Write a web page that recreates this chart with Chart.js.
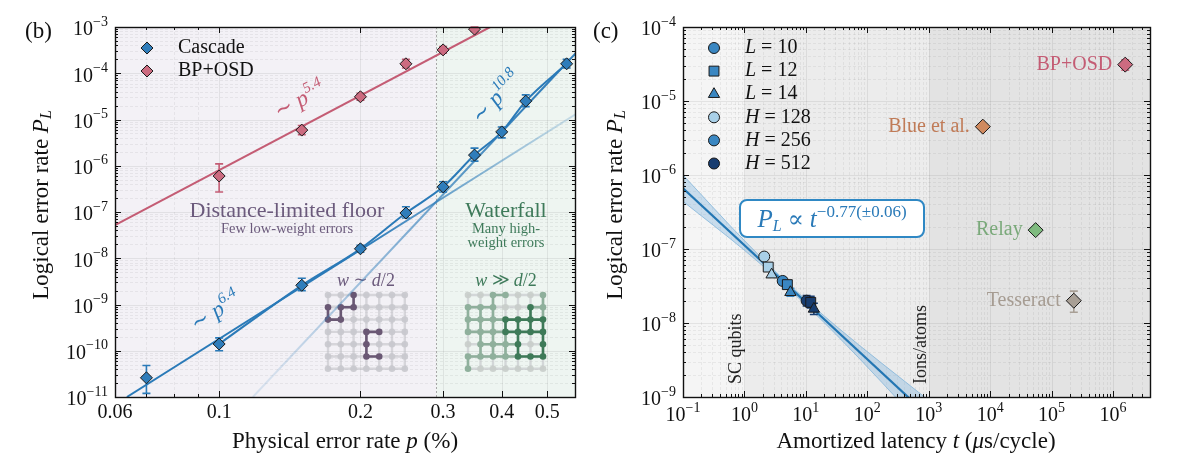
<!DOCTYPE html>
<html>
<head>
<meta charset="utf-8">
<script src="https://cdn.jsdelivr.net/npm/chart.js@4.4.1/dist/chart.umd.min.js"></script>
<style>
  html, body { margin: 0; padding: 0; background: #fff; }
  #wrap { position: relative; width: 1200px; height: 470px; overflow: hidden; }
  canvas { position: absolute; top: 0; }
  #chartB { left: 0; }
  #chartC { left: 585px; }
</style>
</head>
<body>
<div id="wrap">
  <canvas id="chartB" width="590" height="470"></canvas>
  <canvas id="chartC" width="615" height="470"></canvas>
</div>
<script>
// ──────────────────────────────────────
// Panel (b) data
// ──────────────────────────────────────
const pCascade    = [0.07, 0.1, 0.15, 0.2, 0.25, 0.3, 0.35, 0.4, 0.45, 0.55];
const plCascade   = [2.6e-11, 1.4e-10, 2.6e-9, 1.6e-8, 9.5e-8, 3.5e-7, 1.7e-6, 5.4e-6, 2.5e-5, 1.6e-4];
const plCascadeLo = [1.2e-11, 1.0e-10, 2.0e-9, 1.35e-8, 7.4e-8, 2.7e-7, 1.26e-6, 4.0e-6, 1.9e-5, 1.3e-4];
const plCascadeHi = [4.8e-11, 1.9e-10, 3.7e-9, 1.9e-8, 1.3e-7, 4.5e-7, 2.4e-6, 6.9e-6, 3.4e-5, 2.0e-4];
const pBposd      = [0.1, 0.15, 0.2, 0.25, 0.3, 0.35];
const plBposd     = [6e-7, 5.9e-6, 3.1e-5, 1.6e-4, 3.2e-4, 9e-4];
const plBposdLo   = [2.7e-7, 4.7e-6, 2.6e-5, 1.3e-4, 2.7e-4, 8e-4];
const plBposdHi   = [1.1e-6, 7.4e-6, 3.7e-5, 2.0e-4, 3.8e-4, 1e-3];

// fit lines, end points
const fitBposdP  = [0.06, 0.378];
const fitBposdPL = [5.2e-8, 1e-3];
const fitLowP    = [0.0636, 0.575];
const fitLowPL   = [1e-11, 1.3e-5];
const fitHighP   = [0.118, 0.575];
const fitHighPL  = [1e-11, 2.7e-4];
const pThreshold = 0.29;

const xTicksB      = [0.06, 0.1, 0.2, 0.3, 0.4, 0.5];
const xTickLabelsB = ['0.06', '0.1', '0.2', '0.3', '0.4', '0.5'];
const xMinorB      = [0.07, 0.08, 0.09];
const yTickExpB    = [-11, -10, -9, -8, -7, -6, -5, -4, -3];

// ──────────────────────────────────────
// Panel (c) data
// ──────────────────────────────────────
const tH128    = [2.1, 2.44, 2.77];
const plH128   = [7.9e-8, 5.7e-8, 4.5e-8];
const tH256    = [4.2, 5.0, 5.6];
const plH256   = [3.7e-8, 3.3e-8, 2.6e-8];
const plH256Lo = [3.3e-8, 2.95e-8, 2.3e-8];
const plH256Hi = [4.1e-8, 3.7e-8, 2.95e-8];
const tH512    = [10.3, 12.0, 13.5];
const plH512   = [2.0e-8, 1.9e-8, 1.55e-8];
const plH512Lo = [1.7e-8, 1.6e-8, 1.3e-8];
const plH512Hi = [2.35e-8, 2.3e-8, 1.85e-8];
const markerL  = ['circle', 'rect', 'triangle'];

const tFit     = [0.1, 1000];
const plFit    = [6.6e-7, 5.5e-10];
const tBand    = [0.1, 1, 5, 30, 1000];
const plBandHi = [1.0e-6, 1.3e-7, 3.5e-8, 9.3e-9, 9.0e-10];
const plBandLo = [4.4e-7, 9.6e-8, 3.0e-8, 7.2e-9, 3.3e-10];

const otherNames = ['BP+OSD', 'Blue et al.', 'Relay', 'Tesseract'];
const tOther     = [1.58e6, 7.6e3, 5.5e4, 2.3e5];
const plOther    = [3.1e-5, 4.5e-6, 1.8e-7, 2.0e-8];
const plOtherLo  = [2.6e-5, null, 1.65e-7, 1.4e-8];
const plOtherHi  = [3.6e-5, null, 1.95e-7, 2.7e-8];

const regionEdgesC = [1, 1000];
const xTickExpC    = [-1, 0, 1, 2, 3, 4, 5, 6];
const yTickExpC    = [-9, -8, -7, -6, -5, -4];

// ──────────────────────────────────────
// Colours / fonts
// ──────────────────────────────────────
const SERIF = '"Liberation Serif", "DejaVu Serif", serif';
const BLUE = '#2a7ab8', BLUE_RGB = '42,122,184', BLUE_MK = '#2f7dbb';
const PINK = '#c45c74', PINK_MK = '#cc6b80';
const H_LIGHT = '#a9d0e8', H_MED = '#3a87c2', H_DARK = '#183d70';
const OTHER_FILL  = ['#cc6b80', '#d08a5f', '#7fbb7f', '#a89f95'];
const OTHER_TEXT  = ['#c45c74', '#c07b57', '#7aa97a', '#a69c92'];
const OFF_C = 585;

const xy = (xs, ys) => xs.map((v, i) => ({ x: v, y: ys[i] }));

function fnt(p) { return (p.i ? 'italic ' : '') + (p.s || 19) + 'px ' + SERIF; }

function drawRich(ctx, parts, x, y, align) {
    let w = 0;
    for (const p of parts) { ctx.font = fnt(p); w += ctx.measureText(p.t).width; }
    let cx = align === 'right' ? x - w : (align === 'center' ? x - w / 2 : x);
    ctx.textAlign = 'left';
    for (const p of parts) {
        ctx.font = fnt(p);
        ctx.fillText(p.t, cx, y + (p.dy || 0));
        cx += ctx.measureText(p.t).width;
    }
}

function drawRotated(ctx, parts, x, y, deg, color) {
    ctx.save();
    ctx.translate(x, y);
    ctx.rotate(deg * Math.PI / 180);
    ctx.fillStyle = color;
    ctx.textBaseline = 'middle';
    drawRich(ctx, parts, 0, 0, 'center');
    ctx.restore();
}

function expLabel(e) { return (e < 0 ? '\u2212' + (-e) : '' + e); }

function minorLog(min, max) {
    const out = [];
    for (let e = Math.floor(Math.log10(min)); e <= Math.floor(Math.log10(max)); e++) {
        for (let k = 2; k <= 9; k++) {
            const v = k * Math.pow(10, e);
            if (v > min * 1.0001 && v < max * 0.9999) out.push(v);
        }
    }
    return out;
}

function drawGrid(ctx, a, xs, ys, xMaj, xMin, yMaj, yMin) {
    ctx.save();
    ctx.lineWidth = 0.8;
    ctx.setLineDash([3, 2]);
    ctx.strokeStyle = 'rgba(0,0,0,0.07)';
    ctx.beginPath();
    for (const v of xMin) { const p = Math.round(xs.getPixelForValue(v)) + 0.5; ctx.moveTo(p, a.top); ctx.lineTo(p, a.bottom); }
    for (const v of yMin) { const p = Math.round(ys.getPixelForValue(v)) + 0.5; ctx.moveTo(a.left, p); ctx.lineTo(a.right, p); }
    ctx.stroke();
    ctx.setLineDash([]);
    ctx.strokeStyle = 'rgba(0,0,0,0.09)';
    ctx.beginPath();
    for (const v of xMaj) { const p = Math.round(xs.getPixelForValue(v)) + 0.5; ctx.moveTo(p, a.top); ctx.lineTo(p, a.bottom); }
    for (const v of yMaj) { const p = Math.round(ys.getPixelForValue(v)) + 0.5; ctx.moveTo(a.left, p); ctx.lineTo(a.right, p); }
    ctx.stroke();
    ctx.restore();
}

function drawSpines(ctx, a, xs, ys, xMaj, xMin, yMaj, yMin) {
    ctx.save();
    ctx.strokeStyle = '#111';
    ctx.lineWidth = 1;
    ctx.beginPath();
    const tx = (v, len) => { const p = Math.round(xs.getPixelForValue(v)) + 0.5;
        ctx.moveTo(p, a.bottom); ctx.lineTo(p, a.bottom - len); ctx.moveTo(p, a.top); ctx.lineTo(p, a.top + len); };
    const ty = (v, len) => { const p = Math.round(ys.getPixelForValue(v)) + 0.5;
        ctx.moveTo(a.left, p); ctx.lineTo(a.left + len, p); ctx.moveTo(a.right, p); ctx.lineTo(a.right - len, p); };
    xMaj.forEach(v => tx(v, 6)); xMin.forEach(v => tx(v, 3));
    yMaj.forEach(v => ty(v, 6)); yMin.forEach(v => ty(v, 3));
    ctx.stroke();
    ctx.lineWidth = 1.4;
    ctx.strokeRect(Math.round(a.left) + 0.5, Math.round(a.top) + 0.5, Math.round(a.right - a.left), Math.round(a.bottom - a.top));
    ctx.restore();
}

function drawMarker(ctx, style, x, y, r, fill) {
    ctx.save();
    ctx.fillStyle = fill;
    ctx.strokeStyle = '#1a1a1a';
    ctx.lineWidth = 1;
    Chart.helpers.drawPoint(ctx, { pointStyle: style, radius: r, rotation: 0, borderWidth: 1 }, x, y);
    ctx.restore();
}

// lattice icon: classes = rows of '0','1','2'; edges = explicit list or null for auto
function drawIcon(ctx, ox, oy, sx, sy, classes, colors, edges) {
    ctx.save();
    ctx.lineCap = 'round';
    const P = (c, r) => [ox + c * sx, oy + r * sy];
    ctx.strokeStyle = 'rgba(190,190,195,0.55)';
    ctx.lineWidth = 2.4;
    ctx.beginPath();
    for (let r = 0; r < 7; r++) for (let c = 0; c < 7; c++) {
        const [x, y] = P(c, r);
        if (c < 6) { ctx.moveTo(x, y); ctx.lineTo(x + sx, y); }
        if (r < 6) { ctx.moveTo(x, y); ctx.lineTo(x, y + sy); }
    }
    ctx.stroke();
    const cls = (c, r) => +classes[r][c];
    const seg = (c1, r1, c2, r2, col) => {
        const [x1, y1] = P(c1, r1), [x2, y2] = P(c2, r2);
        ctx.strokeStyle = col; ctx.lineWidth = 2.6;
        ctx.beginPath(); ctx.moveTo(x1, y1); ctx.lineTo(x2, y2); ctx.stroke();
    };
    if (edges) {
        edges.forEach(e => seg(e[0], e[1], e[2], e[3], colors[1]));
    } else {
        for (let lvl = 1; lvl <= 2; lvl++)
            for (let r = 0; r < 7; r++) for (let c = 0; c < 7; c++) {
                if (c < 6 && Math.min(cls(c, r), cls(c + 1, r)) === lvl) seg(c, r, c + 1, r, colors[lvl]);
                if (r < 6 && Math.min(cls(c, r), cls(c, r + 1)) === lvl) seg(c, r, c, r + 1, colors[lvl]);
            }
    }
    for (let r = 0; r < 7; r++) for (let c = 0; c < 7; c++) {
        const [x, y] = P(c, r);
        ctx.fillStyle = colors[cls(c, r)];
        ctx.beginPath(); ctx.arc(x, y, 3.3, 0, Math.PI * 2); ctx.fill();
    }
    ctx.restore();
}

function fadeLine(x0, a0, x1, a1) {
    return (c) => {
        const chart = c.chart, xs = chart.scales && chart.scales.x;
        if (!chart.chartArea || !xs) return 'rgba(' + BLUE_RGB + ',' + a0 + ')';
        const g = chart.ctx.createLinearGradient(xs.getPixelForValue(x0), 0, xs.getPixelForValue(x1), 0);
        g.addColorStop(0, 'rgba(' + BLUE_RGB + ',' + a0 + ')');
        g.addColorStop(1, 'rgba(' + BLUE_RGB + ',' + a1 + ')');
        return g;
    };
}

const errorBars = {
    id: 'errorBars',
    beforeDatasetDraw(chart, args) {
        const ds = chart.data.datasets[args.index];
        if (!ds.errLo) return;
        const { ctx, scales: { x, y } } = chart;
        ctx.save();
        ctx.lineWidth = 1.6;
        ds.data.forEach((d, i) => {
            if (ds.errLo[i] == null) return;
            ctx.strokeStyle = Array.isArray(ds.errColor) ? ds.errColor[i] : ds.errColor;
            const px = x.getPixelForValue(d.x);
            const y1 = y.getPixelForValue(ds.errLo[i]), y2 = y.getPixelForValue(ds.errHi[i]);
            ctx.beginPath();
            ctx.moveTo(px, y1); ctx.lineTo(px, y2);
            ctx.moveTo(px - 4, y1); ctx.lineTo(px + 4, y1);
            ctx.moveTo(px - 4, y2); ctx.lineTo(px + 4, y2);
            ctx.stroke();
        });
        ctx.restore();
    }
};

const tickParts = (e) => [{ t: '10', s: 20 }, { t: expLabel(e), s: 14, dy: -8 }];

// ──────────────────────────────────────
// Panel (b) decorations
// ──────────────────────────────────────
const panelB = {
    id: 'panelB',
    beforeDatasetsDraw(chart) {
        const { ctx, chartArea: a, scales: { x, y } } = chart;
        const yMaj = yTickExpB.map(e => Math.pow(10, e));
        const yMin = minorLog(yMaj[0], yMaj[yMaj.length - 1]);
        ctx.save();
        const xt = x.getPixelForValue(pThreshold);
        ctx.fillStyle = '#f3f1f6';
        ctx.fillRect(a.left, a.top, xt - a.left, a.bottom - a.top);
        ctx.fillStyle = '#eef5f1';
        ctx.fillRect(xt, a.top, a.right - xt, a.bottom - a.top);
        drawGrid(ctx, a, x, y, xTicksB, xMinorB, yMaj, yMin);
        ctx.strokeStyle = '#a8a8a8'; ctx.lineWidth = 1; ctx.setLineDash([2, 2]);
        ctx.beginPath(); ctx.moveTo(Math.round(xt) + 0.5, a.top); ctx.lineTo(Math.round(xt) + 0.5, a.bottom); ctx.stroke();
        ctx.setLineDash([]);

        // regime labels
        ctx.textBaseline = 'middle';
        ctx.fillStyle = '#6b5a7c';
        drawRich(ctx, [{ t: 'Distance-limited floor', s: 22 }], 287, 211, 'center');
        drawRich(ctx, [{ t: 'Few low-weight errors', s: 14.5 }], 287, 229, 'center');
        drawRich(ctx, [{ t: 'w', i: 1, s: 18 }, { t: ' \u223C ', s: 17 }, { t: 'd', i: 1, s: 18 }, { t: '/2', s: 18 }], 366, 281, 'center');
        ctx.fillStyle = '#3e7a5a';
        drawRich(ctx, [{ t: 'Waterfall', s: 22 }], 506, 211, 'center');
        drawRich(ctx, [{ t: 'Many high-', s: 14.5 }], 506, 229, 'center');
        drawRich(ctx, [{ t: 'weight errors', s: 14.5 }], 506, 243, 'center');
        drawRich(ctx, [{ t: 'w', i: 1, s: 18 }, { t: ' \u226B ', s: 17 }, { t: 'd', i: 1, s: 18 }, { t: '/2', s: 18 }], 506, 281, 'center');

        drawIcon(ctx, 328, 295, 12.8, 12.3,
            ['0010000', '1110000', '1100000', '0001100', '0001000', '0001100', '0000000'],
            ['rgba(200,200,205,0.9)', '#6a5874'],
            [[2, 0, 2, 1], [1, 1, 2, 1], [0, 1, 0, 2], [1, 1, 1, 2], [0, 2, 1, 2],
             [3, 3, 4, 3], [3, 3, 3, 4], [3, 4, 3, 5], [3, 5, 4, 5]]);
        drawIcon(ctx, 468, 295, 12.5, 12.3,
            ['0011001', '1110021', '1112222', '1112222', '0111202', '1111222', '1000000'],
            ['rgba(200,205,202,0.9)', '#8fb09c', '#3e7a58'], null);

        // exponent labels
        const sup = (base, ex) => [{ t: '\u223C ', s: 22 }, { t: base, i: 1, s: 23 }, { t: ex, i: 1, s: 15, dy: -8 }];
        drawRotated(ctx, sup('p', '5.4'), 300, 101, -27.8, PINK);
        drawRotated(ctx, sup('p', '10.8'), 497, 98, -47, BLUE);
        drawRotated(ctx, sup('p', '6.4'), 216, 312, -32, BLUE);
        ctx.restore();
    },
    afterDraw(chart) {
        const { ctx, chartArea: a, scales: { x, y } } = chart;
        const yMaj = yTickExpB.map(e => Math.pow(10, e));
        const yMin = minorLog(yMaj[0], yMaj[yMaj.length - 1]);
        drawSpines(ctx, a, x, y, xTicksB, xMinorB, yMaj, yMin);
        ctx.save();
        ctx.fillStyle = '#111';
        ctx.textBaseline = 'middle';
        yTickExpB.forEach(e => {
            drawRich(ctx, tickParts(e), a.left - 7, y.getPixelForValue(Math.pow(10, e)) + 3, 'right');
        });
        xTicksB.forEach((v, i) => drawRich(ctx, [{ t: xTickLabelsB[i], s: 20 }], x.getPixelForValue(v), a.bottom + 16, 'center'));
        drawRich(ctx, [{ t: 'Physical error rate ', s: 23 }, { t: 'p', i: 1, s: 23 }, { t: ' (%)', s: 23 }], (a.left + a.right) / 2, 442, 'center');
        drawRotated(ctx, [{ t: 'Logical error rate ', s: 23 }, { t: 'P', i: 1, s: 23 }, { t: 'L', i: 1, s: 16, dy: 5 }], 42, 205, -90, '#111');
        ctx.fillStyle = '#111';
        drawRich(ctx, [{ t: '(b)', s: 23 }], 25, 32, 'left');

        // legend
        drawMarker(ctx, 'rectRot', 147, 48, 6, BLUE_MK);
        drawMarker(ctx, 'rectRot', 147, 71, 6, PINK_MK);
        ctx.fillStyle = '#111';
        ctx.textBaseline = 'middle';
        drawRich(ctx, [{ t: 'Cascade', s: 20 }], 178, 48, 'left');
        drawRich(ctx, [{ t: 'BP+OSD', s: 20 }], 178, 71, 'left');
        ctx.restore();
    }
};

// ──────────────────────────────────────
// Panel (c) decorations
// ──────────────────────────────────────
const panelC = {
    id: 'panelC',
    beforeDatasetsDraw(chart) {
        const { ctx, chartArea: a, scales: { x, y } } = chart;
        const xMaj = xTickExpC.map(e => Math.pow(10, e));
        const yMaj = yTickExpC.map(e => Math.pow(10, e));
        ctx.save();
        const e0 = x.getPixelForValue(regionEdgesC[0]), e1 = x.getPixelForValue(regionEdgesC[1]);
        ctx.fillStyle = '#f5f5f5'; ctx.fillRect(a.left, a.top, e0 - a.left, a.bottom - a.top);
        ctx.fillStyle = '#ececec'; ctx.fillRect(e0, a.top, e1 - e0, a.bottom - a.top);
        ctx.fillStyle = '#e3e3e3'; ctx.fillRect(e1, a.top, a.right - e1, a.bottom - a.top);
        drawGrid(ctx, a, x, y, xMaj, minorLog(x.min, x.max), yMaj, minorLog(y.min, y.max));
        ctx.fillStyle = '#222';
        ctx.textBaseline = 'middle';
        const rot = (txt, gx, by) => {
            ctx.save(); ctx.translate(gx - OFF_C, by); ctx.rotate(-Math.PI / 2);
            drawRich(ctx, [{ t: txt, s: 18 }], 0, 0, 'left'); ctx.restore();
        };
        rot('SC qubits', 736, 384);
        rot('Ions/atoms', 921, 384);
        ctx.restore();
    },
    afterDatasetsDraw(chart) {
        const { ctx, scales: { x, y } } = chart;
        ctx.save();
        ctx.textBaseline = 'middle';
        otherNames.forEach((n, i) => {
            ctx.fillStyle = OTHER_TEXT[i];
            drawRich(ctx, [{ t: n, s: 20 }], x.getPixelForValue(tOther[i]) - 13, y.getPixelForValue(plOther[i]), 'right');
        });
        // fit box
        const bx = 740 - OFF_C, by = 200, bw = 184, bh = 37;
        ctx.beginPath();
        ctx.roundRect(bx, by, bw, bh, 7);
        ctx.fillStyle = '#fff'; ctx.fill();
        ctx.strokeStyle = '#2f88c4'; ctx.lineWidth = 2; ctx.stroke();
        ctx.fillStyle = '#2a7ab8';
        drawRich(ctx, [{ t: 'P', i: 1, s: 25 }, { t: 'L', i: 1, s: 16, dy: 6 }, { t: ' \u221D ', s: 24 },
            { t: 't', i: 1, s: 25 }, { t: '\u22120.77(\u00B10.06)', s: 17, dy: -8 }], bx + bw / 2, by + bh / 2 + 2, 'center');
        ctx.restore();
    },
    afterDraw(chart) {
        const { ctx, chartArea: a, scales: { x, y } } = chart;
        const xMaj = xTickExpC.map(e => Math.pow(10, e));
        const yMaj = yTickExpC.map(e => Math.pow(10, e));
        drawSpines(ctx, a, x, y, xMaj, minorLog(x.min, x.max), yMaj, minorLog(y.min, y.max));
        ctx.save();
        ctx.fillStyle = '#111';
        ctx.textBaseline = 'middle';
        yTickExpC.forEach(e => {
            drawRich(ctx, tickParts(e), a.left - 7, y.getPixelForValue(Math.pow(10, e)) + 3, 'right');
        });
        xTickExpC.forEach(e => {
            drawRich(ctx, tickParts(e), x.getPixelForValue(Math.pow(10, e)), a.bottom + 19, 'center');
        });
        drawRich(ctx, [{ t: 'Amortized latency ', s: 23 }, { t: 't', i: 1, s: 23 }, { t: ' (', s: 23 },
            { t: '\u03BC', i: 1, s: 23 }, { t: 's/cycle)', s: 23 }], 916 - OFF_C, 442, 'center');
        drawRotated(ctx, [{ t: 'Logical error rate ', s: 23 }, { t: 'P', i: 1, s: 23 }, { t: 'L', i: 1, s: 16, dy: 5 }], 616 - OFF_C, 205, -90, '#111');
        ctx.fillStyle = '#111';
        drawRich(ctx, [{ t: '(c)', s: 23 }], 593 - OFF_C, 32, 'left');

        // legend
        const rows = [
            ['circle', 5.5, H_MED, 'L', '10'], ['rect', 7, H_MED, 'L', '12'], ['triangle', 6.5, H_MED, 'L', '14'],
            ['circle', 5.5, H_LIGHT, 'H', '128'], ['circle', 5.5, H_MED, 'H', '256'], ['circle', 5.5, H_DARK, 'H', '512']
        ];
        rows.forEach((r, i) => {
            const yy = 48 + i * 23.1;
            drawMarker(ctx, r[0], 714 - OFF_C, yy, r[1], r[2]);
            ctx.fillStyle = '#111';
            ctx.textBaseline = 'middle';
            drawRich(ctx, [{ t: r[3], i: 1, s: 20 }, { t: ' = ' + r[4], s: 20 }], 745 - OFF_C, yy, 'left');
        });
        ctx.restore();
    }
};

const logAxis = (min, max) => ({ type: 'logarithmic', min: min, max: max, display: false });

// ──────────────────────────────────────
// Charts
// ──────────────────────────────────────
new Chart(document.getElementById('chartB'), {
    type: 'scatter',
    data: {
        datasets: [
            { label: 'Cascade', data: xy(pCascade, plCascade), pointStyle: 'rectRot', pointRadius: 6,
              backgroundColor: BLUE_MK, borderColor: '#1a1a1a', borderWidth: 1,
              errLo: plCascadeLo, errHi: plCascadeHi, errColor: BLUE, order: 0 },
            { label: 'BP+OSD', data: xy(pBposd, plBposd), pointStyle: 'rectRot', pointRadius: 6,
              backgroundColor: PINK_MK, borderColor: '#1a1a1a', borderWidth: 1,
              errLo: plBposdLo, errHi: plBposdHi, errColor: PINK, order: 0 },
            { label: 'curve', data: xy(pCascade.slice(1), plCascade.slice(1)), showLine: true, pointRadius: 0,
              borderColor: BLUE, borderWidth: 2, cubicInterpolationMode: 'monotone', order: 2 },
            { label: 'fit low', data: xy(fitLowP, fitLowPL), showLine: true, pointRadius: 0,
              borderColor: fadeLine(0.2, 1, 0.55, 0.22), borderWidth: 2, order: 3 },
            { label: 'fit high', data: xy(fitHighP, fitHighPL), showLine: true, pointRadius: 0,
              borderColor: fadeLine(0.13, 0.15, 0.45, 0.95), borderWidth: 2, order: 3 },
            { label: 'fit bposd', data: xy(fitBposdP, fitBposdPL), showLine: true, pointRadius: 0,
              borderColor: PINK, borderWidth: 2, order: 3 }
        ]
    },
    options: {
        responsive: false,
        animation: false,
        layout: { padding: { left: 115, right: 15, top: 27, bottom: 73 } },
        scales: { x: logAxis(0.06, 0.573), y: logAxis(1e-11, 1e-3) },
        plugins: { legend: { display: false }, tooltip: { enabled: false } }
    },
    plugins: [panelB, errorBars]
});

new Chart(document.getElementById('chartC'), {
    type: 'scatter',
    data: {
        datasets: [
            { label: 'others', data: xy(tOther, plOther), pointStyle: 'rectRot', pointRadius: 7.5,
              backgroundColor: OTHER_FILL, borderColor: '#1a1a1a', borderWidth: 1,
              errLo: plOtherLo, errHi: plOtherHi, errColor: OTHER_FILL, order: 0 },
            { label: 'H=512', data: xy(tH512, plH512), pointStyle: markerL, pointRadius: [5.5, 7, 6.5],
              backgroundColor: H_DARK, borderColor: '#1a1a1a', borderWidth: 1,
              errLo: plH512Lo, errHi: plH512Hi, errColor: H_DARK, order: 1 },
            { label: 'H=256', data: xy(tH256, plH256), pointStyle: markerL, pointRadius: [5.5, 7, 6.5],
              backgroundColor: H_MED, borderColor: '#1a1a1a', borderWidth: 1,
              errLo: plH256Lo, errHi: plH256Hi, errColor: H_MED, order: 1 },
            { label: 'H=128', data: xy(tH128, plH128), pointStyle: markerL, pointRadius: [5.5, 7, 6.5],
              backgroundColor: H_LIGHT, borderColor: '#1a1a1a', borderWidth: 1, order: 1 },
            { label: 'fit', data: xy(tFit, plFit), showLine: true, pointRadius: 0,
              borderColor: '#2376b3', borderWidth: 2.2, order: 4 },
            { label: 'band hi', data: xy(tBand, plBandHi), showLine: true, pointRadius: 0,
              borderColor: 'rgba(120,175,215,0.7)', borderWidth: 1, cubicInterpolationMode: 'monotone',
              fill: '+1', backgroundColor: 'rgba(125,180,220,0.38)', order: 5 },
            { label: 'band lo', data: xy(tBand, plBandLo), showLine: true, pointRadius: 0,
              borderColor: 'rgba(120,175,215,0.7)', borderWidth: 1, cubicInterpolationMode: 'monotone',
              fill: false, order: 5 }
        ]
    },
    options: {
        responsive: false,
        animation: false,
        layout: { padding: { left: 98, right: 50, top: 27, bottom: 73 } },
        scales: { x: logAxis(0.1, 4e6), y: logAxis(1e-9, 1e-4) },
        plugins: { legend: { display: false }, tooltip: { enabled: false } }
    },
    plugins: [panelC, errorBars]
});
</script>
</body>
</html>
